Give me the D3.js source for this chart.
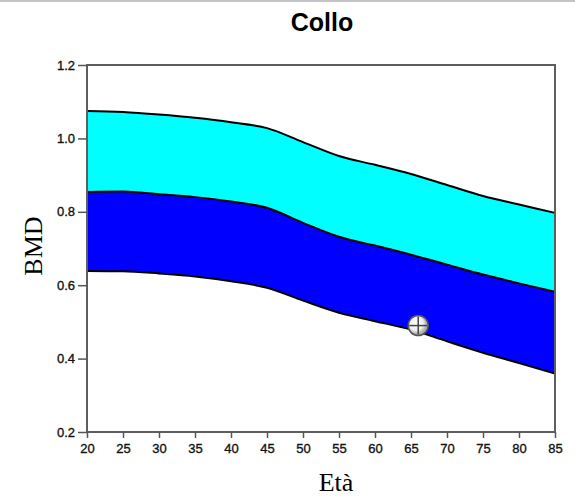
<!DOCTYPE html>
<html>
<head>
<meta charset="utf-8">
<script src="https://cdn.jsdelivr.net/npm/d3@7"></script>
<style>
  body { margin: 0; background: #fff; }
  .tick text { font-family: "Liberation Sans", Arial, sans-serif; font-size: 13px; fill: #111; stroke: #111; stroke-width: 0.35px; }
  .axis path { display: none; }
  .axis line { stroke: #555; stroke-width: 1.5px; }
</style>
</head>
<body>
<div id="chart"></div>
<script>
// reference curves (BMD by age)
var ages = [20, 25, 30, 35, 40, 45, 50, 55, 60, 65, 70, 75, 80, 85];
var upper = [1.075, 1.072, 1.065, 1.056, 1.044, 1.028, 0.990, 0.952, 0.928, 0.903, 0.873, 0.843, 0.820, 0.797];
var middle = [0.854, 0.855, 0.848, 0.840, 0.828, 0.811, 0.770, 0.732, 0.708, 0.683, 0.656, 0.629, 0.605, 0.582];
var lower = [0.639, 0.638, 0.632, 0.624, 0.611, 0.593, 0.558, 0.525, 0.502, 0.479, 0.447, 0.416, 0.388, 0.359];
var yTicks = [0.2, 0.4, 0.6, 0.8, 1.0, 1.2];
// patient measurement
var patient = [{ age: 66, bmd: 0.49 }];

var W = 575, H = 496;
var margin = { left: 87, right: 20, top: 65, bottom: 64 };
var width = W - margin.left - margin.right;
var height = H - margin.top - margin.bottom;

var svg = d3.select("#chart").append("svg")
    .attr("width", W)
    .attr("height", H);

// thin grey edge at the top
svg.append("rect")
    .attr("x", 0).attr("y", 0)
    .attr("width", W).attr("height", 2)
    .attr("fill", "#c4c4c8");

var g = svg.append("g")
    .attr("transform", "translate(" + margin.left + "," + margin.top + ")");

var x = d3.scaleLinear().domain([20, 85]).range([0, width]);
var y = d3.scaleLinear().domain([0.2, 1.2]).range([height, 0]);

var rows = ages.map(function(a, i){
    return { age: a, up: upper[i], mid: middle[i], low: lower[i] };
});

var curve = d3.curveMonotoneX;

// bands
var bandTop = d3.area()
    .x(function(d){ return x(d.age); })
    .y0(function(d){ return y(d.mid); })
    .y1(function(d){ return y(d.up); })
    .curve(curve);
var bandBottom = d3.area()
    .x(function(d){ return x(d.age); })
    .y0(function(d){ return y(d.low); })
    .y1(function(d){ return y(d.mid); })
    .curve(curve);

g.append("path").attr("d", bandTop(rows)).attr("fill", "#00ffff");
g.append("path").attr("d", bandBottom(rows)).attr("fill", "#0000ff");

// boundary lines
["up", "mid", "low"].forEach(function(k){
    var line = d3.line()
        .x(function(d){ return x(d.age); })
        .y(function(d){ return y(d[k]); })
        .curve(curve);
    g.append("path")
        .attr("d", line(rows))
        .attr("fill", "none")
        .attr("stroke", "#000")
        .attr("stroke-width", 2);
});

// frame
g.append("rect")
    .attr("width", width)
    .attr("height", height)
    .attr("fill", "none")
    .attr("stroke", "#5e5e5e")
    .attr("stroke-width", 2);

// axes
var xAxis = g.append("g")
    .attr("class", "axis")
    .attr("transform", "translate(0," + height + ")")
    .call(d3.axisBottom(x).tickValues(ages).tickSize(6).tickPadding(6));

var yAxis = g.append("g")
    .attr("class", "axis")
    .call(d3.axisLeft(y).tickValues(yTicks).tickSize(9).tickPadding(3)
        .tickFormat(d3.format(".1f")));

// patient marker
var defs = svg.append("defs");
var grad = defs.append("radialGradient").attr("id", "dot").attr("cx", "40%").attr("cy", "40%");
grad.append("stop").attr("offset", "0%").attr("stop-color", "#ffffff");
grad.append("stop").attr("offset", "70%").attr("stop-color", "#eeeeee");
grad.append("stop").attr("offset", "100%").attr("stop-color", "#b0b0b0");

var mk = g.selectAll(".marker").data(patient).enter().append("g")
    .attr("class", "marker")
    .attr("transform", function(d){ return "translate(" + x(d.age) + "," + y(d.bmd) + ")"; });
mk.append("circle")
    .attr("r", 10)
    .attr("fill", "url(#dot)")
    .attr("stroke", "#555")
    .attr("stroke-width", 1.5);
mk.append("line").attr("x1", -9).attr("x2", 9).attr("stroke", "#444").attr("stroke-width", 1.5);
mk.append("line").attr("y1", -9).attr("y2", 9).attr("stroke", "#444").attr("stroke-width", 1.5);

// title and axis labels
svg.append("text")
    .attr("x", 322)
    .attr("y", 31)
    .attr("text-anchor", "middle")
    .attr("font-family", "Liberation Sans, Arial, sans-serif")
    .attr("font-weight", "bold")
    .attr("font-size", "25px")
    .text("Collo");

svg.append("text")
    .attr("x", 336)
    .attr("y", 491)
    .attr("text-anchor", "middle")
    .attr("font-family", "Liberation Serif, Times New Roman, serif")
    .attr("font-size", "26px")
    .text("Età");

svg.append("text")
    .attr("transform", "translate(42,246) rotate(-90)")
    .attr("text-anchor", "middle")
    .attr("font-family", "Liberation Serif, Times New Roman, serif")
    .attr("font-size", "26px")
    .text("BMD");
</script>
</body>
</html>
